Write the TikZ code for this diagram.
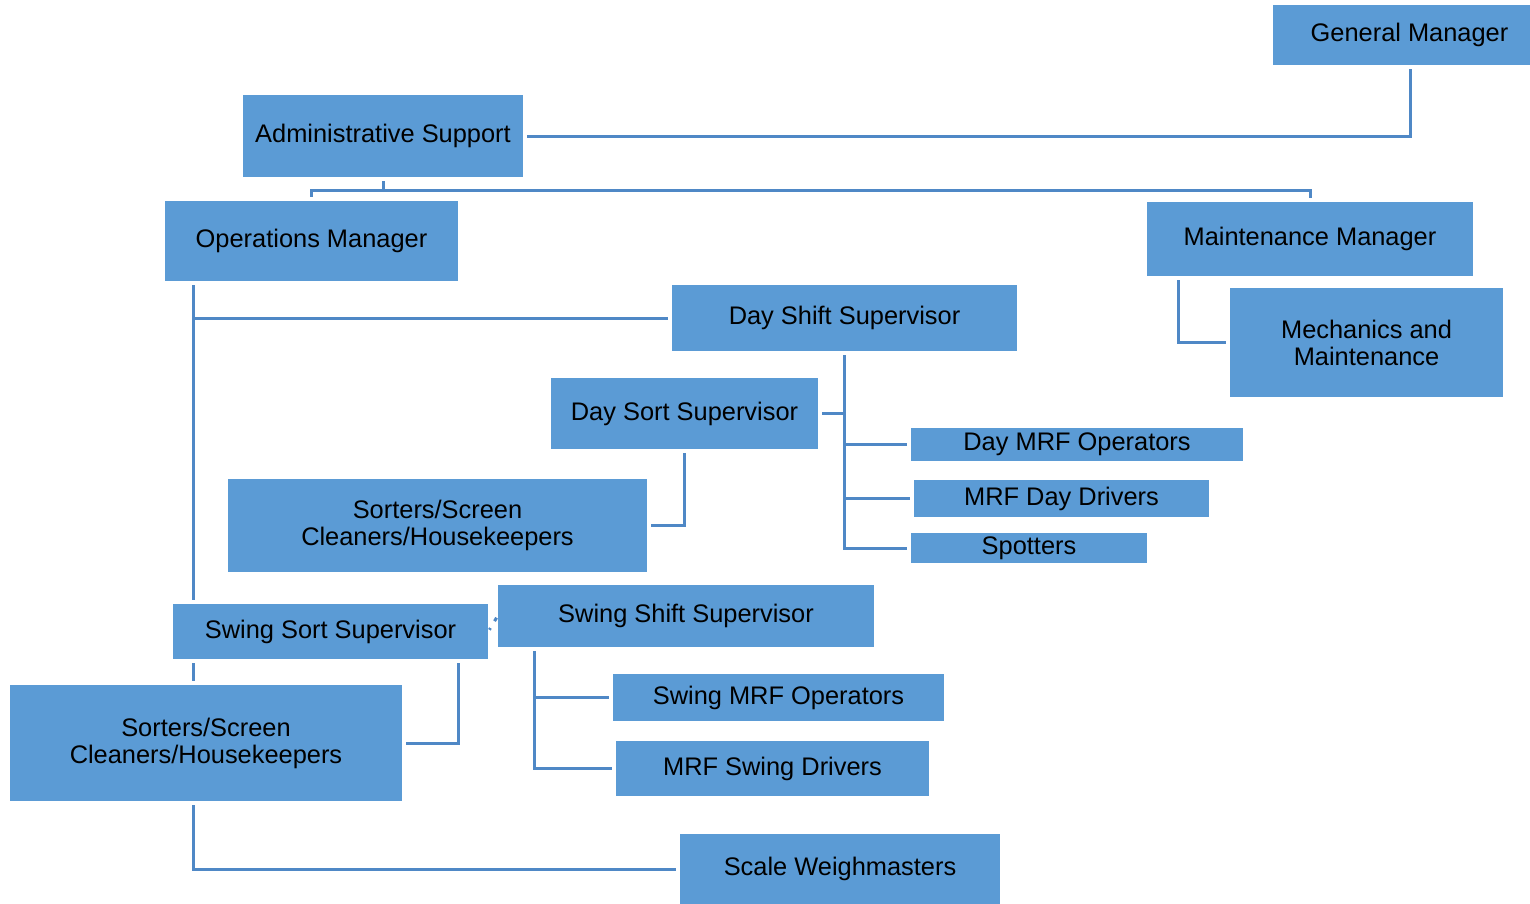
\documentclass[tikz,border=0pt]{standalone}
\usepackage{fontspec}
\setmainfont{Liberation Sans}
\usepackage{tikz}
\usetikzlibrary{arrows.meta,calc,positioning}
\definecolor{boxblue}{HTML}{5B9BD5}
\definecolor{linkblue}{HTML}{4F88C6}

\begin{document}
\begin{tikzpicture}[x=0.5pt,y=-0.5pt,
  box/.style={fill=boxblue,draw=none,inner sep=0pt,align=center,
    font=\fontsize{12.7}{13.5}\selectfont},
  link/.style={draw=linkblue,line width=1.5pt,shorten >=2pt,shorten <=2pt}]
  \useasboundingbox (0,0) rectangle (1530,904);
  % boxes
  \node[box,minimum width=128.5pt,minimum height=30pt] (gm) at (1401.5,35) {\hspace*{8pt}General Manager};
  \node[box,minimum width=140pt,minimum height=41pt] (admin) at (383,136) {Administrative Support};
  \node[box,minimum width=146.5pt,minimum height=40pt] (ops) at (311.5,241) {Operations Manager};
  \node[box,minimum width=163pt,minimum height=37pt] (maint) at (1310,239) {Maintenance Manager};
  \node[box,minimum width=136.5pt,minimum height=54.5pt] (mech) at (1366.5,342.5) {Mechanics and\\Maintenance};
  \node[box,minimum width=172.5pt,minimum height=33pt] (dayshift) at (844.5,318) {Day Shift Supervisor};
  \node[box,minimum width=133.5pt,minimum height=35.5pt] (daysort) at (684.5,413.5) {Day Sort Supervisor};
  \node[box,minimum width=166pt,minimum height=16.5pt] (dayop) at (1077,444.5) {Day MRF Operators};
  \node[box,minimum width=147.5pt,minimum height=18.5pt] (daydrv) at (1061.5,498.5) {MRF Day Drivers};
  \node[box,minimum width=118pt,minimum height=15pt] (spot) at (1029,548) {Spotters};
  \node[box,minimum width=209.5pt,minimum height=46.5pt] (sorta) at (437.5,525.5) {Sorters/Screen\\Cleaners/Housekeepers};
  \node[box,minimum width=157.5pt,minimum height=27.5pt] (swsort) at (330.5,631.5) {Swing Sort Supervisor};
  \node[box,minimum width=188pt,minimum height=31pt] (swshift) at (686,616) {Swing Shift Supervisor};
  \node[box,minimum width=196pt,minimum height=58pt] (sortb) at (206,743) {Sorters/Screen\\Cleaners/Housekeepers};
  \node[box,minimum width=165.5pt,minimum height=23.5pt] (swop) at (778.5,697.5) {Swing MRF Operators};
  \node[box,minimum width=156.5pt,minimum height=27.5pt] (swdrv) at (772.5,768.5) {MRF Swing Drivers};
  \node[box,minimum width=160pt,minimum height=35pt] (scale) at (840,869) {Scale Weighmasters};
  % connectors
  \coordinate (bus) at (383,190);
  \coordinate (opsx) at (193,281);
  \coordinate (swx) at (534,647);
  \draw[link] ([xshift=4.5pt]gm.south) |- (admin.east);
  \draw[link,shorten >=0pt] (admin.south) -- (bus);
  \draw[link] (ops.north) |- (bus) -| (maint.north);
  \draw[link] ([xshift=-66pt]maint.south) |- (mech.west);
  \draw[link] (opsx) -- (opsx |- swsort.north);
  \draw[link,shorten <=0pt] (opsx |- dayshift.west) -- (dayshift.west);
  \draw[link] (dayshift.south) |- (spot.west);
  \draw[link,shorten <=0pt] (dayshift.south |- daysort.east) -- (daysort.east);
  \draw[link,shorten <=0pt] (dayshift.south |- dayop.west) -- (dayop.west);
  \draw[link,shorten <=0pt] (dayshift.south |- daydrv.west) -- (daydrv.west);
  \draw[link] (daysort.south) |- (sorta.east);
  \draw[link,shorten >=1pt,shorten <=1pt,dash pattern=on 2pt off 4pt] (swshift.west) -- (swsort.east);
  \draw[link] (opsx |- swsort.south) -- (opsx |- sortb.north);
  \draw[link] (opsx |- sortb.south) |- (scale.west);
  \draw[link] ([xshift=63.75pt]swsort.south) |- (sortb.east);
  \draw[link] (swx) |- (swdrv.west);
  \draw[link,shorten <=0pt] (swx |- swop.west) -- (swop.west);
\end{tikzpicture}
\end{document}
